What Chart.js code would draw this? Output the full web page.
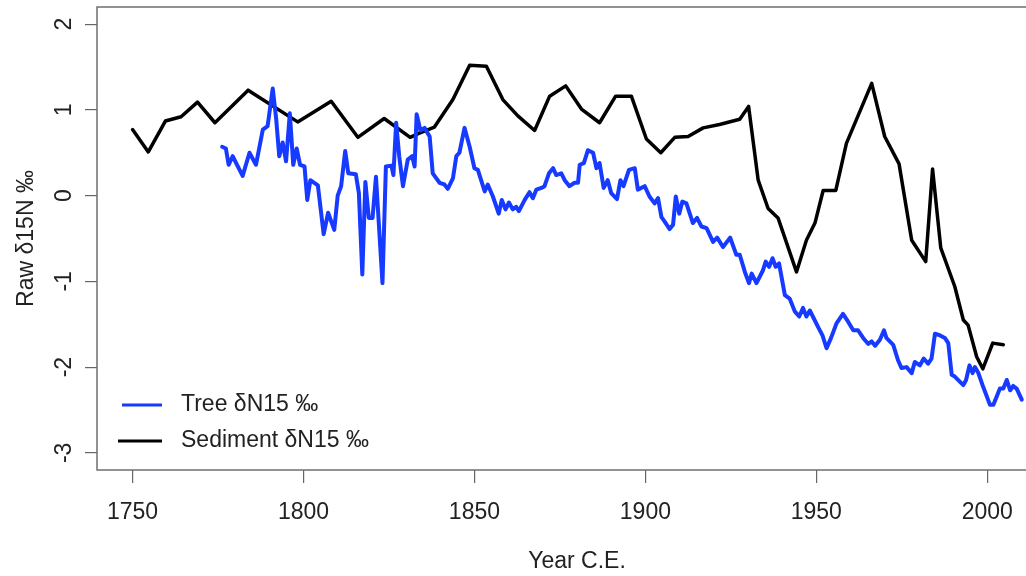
<!DOCTYPE html>
<html>
<head>
<meta charset="utf-8">
<script src="https://cdn.jsdelivr.net/npm/chart.js@4"></script>
<style>
  html, body { margin: 0; padding: 0; background: #fff; overflow: hidden; }
  #wrap { width: 1026px; height: 576px; overflow: hidden; }
</style>
</head>
<body>
<div id="wrap">
  <canvas id="chart" width="1070" height="576"></canvas>
</div>
<script>
// tree ring record (years, values in per mil)
const treeYears = [1776.2, 1777.3, 1778.1, 1779.3, 1780.3, 1782.2, 1784.2, 1786.1, 1788.1, 1789.5,
  1791, 1792, 1792.9, 1793.9, 1794.9, 1796, 1797, 1798, 1799, 1800.3,
  1801.1, 1802, 1804.2, 1805.9, 1807.2, 1809, 1810, 1811, 1812.2, 1813.1,
  1815.3, 1816.2, 1817.2, 1818.1, 1819.1, 1820.2, 1821.2, 1823.1, 1824.1, 1825.7,
  1826.3, 1827.1, 1828, 1829.1, 1830.5, 1831.8, 1832.5, 1833.1, 1834.2, 1835.4,
  1836.9, 1837.8, 1839.8, 1841.2, 1842.2, 1843.7, 1844.7, 1845.6, 1847.1, 1848.6,
  1850, 1851, 1853, 1853.9, 1855.4, 1857.1, 1858, 1859.1, 1860.1, 1861.2,
  1862.2, 1863, 1864.7, 1866.1, 1867.1, 1868.1, 1869.6, 1870.5, 1871.8, 1873,
  1873.9, 1875.4, 1876.4, 1877.8, 1879.3, 1880.3, 1880.8, 1882, 1883.2, 1884.7,
  1885.7, 1886.6, 1887.8, 1889, 1890, 1891.7, 1892.7, 1893.6, 1895.2, 1896.9,
  1897.8, 1899.8, 1901.2, 1902.7, 1903.7, 1904.7, 1905.6, 1907.1, 1908.1, 1908.9,
  1909.9, 1910.8, 1912, 1913.9, 1915.1, 1916.4, 1917.9, 1919.8, 1921, 1922.7,
  1924.8, 1926.6, 1927.6, 1929.1, 1930.3, 1931.1, 1932.5, 1934.4, 1935.2, 1936.2,
  1937.2, 1938.1, 1939.1, 1940.8, 1942.2, 1943.7, 1945, 1946.1, 1947.1, 1948.1,
  1950.5, 1951.8, 1953, 1954.4, 1955.9, 1957.8, 1959.3, 1960.8, 1962.2, 1963.7,
  1965.2, 1966.2, 1967.2, 1968.6, 1969.8, 1970.5, 1972.5, 1973.9, 1974.9, 1976.4,
  1977.9, 1978.8, 1980.3, 1981.4, 1982.7, 1983.7, 1984.7, 1986.2, 1987.6, 1988.6,
  1989.6, 1990.5, 1993, 1993.8, 1994.8, 1995.7, 1996.4, 1997.4, 1998.8, 2000.8,
  2001.8, 2003.7, 2004.7, 2005.7, 2006.7, 2007.6, 2008.6, 2010.1];
const treeValues = [0.57, 0.55, 0.36, 0.46, 0.38, 0.23, 0.5, 0.36, 0.77, 0.81,
  1.25, 0.9, 0.46, 0.62, 0.4, 0.96, 0.36, 0.55, 0.36, 0.34,
  -0.05, 0.18, 0.12, -0.45, -0.2, -0.4, 0, 0.11, 0.52, 0.26,
  0.25, 0.03, -0.92, 0.16, -0.26, -0.26, 0.22, -1.02, 0.34, 0.35,
  0.24, 0.85, 0.46, 0.11, 0.42, 0.46, 0.34, 0.95, 0.76, 0.79,
  0.69, 0.26, 0.15, 0.13, 0.08, 0.2, 0.46, 0.5, 0.79, 0.57,
  0.32, 0.3, 0.05, 0.13, -0.01, -0.21, -0.05, -0.16, -0.08, -0.16,
  -0.13, -0.18, -0.05, 0.04, -0.03, 0.07, 0.09, 0.11, 0.26, 0.32,
  0.24, 0.26, 0.18, 0.11, 0.15, 0.15, 0.36, 0.38, 0.53, 0.5,
  0.32, 0.38, 0.09, 0.18, 0.03, -0.04, 0.18, 0.11, 0.3, 0.32,
  0.07, 0.11, -0.01, -0.09, -0.03, -0.25, -0.3, -0.39, -0.34, -0.01,
  -0.21, -0.07, -0.09, -0.32, -0.26, -0.36, -0.38, -0.54, -0.49, -0.6,
  -0.49, -0.69, -0.69, -0.89, -1.02, -0.91, -1.02, -0.87, -0.77, -0.83,
  -0.73, -0.83, -0.79, -1.16, -1.2, -1.35, -1.41, -1.31, -1.41, -1.34,
  -1.53, -1.63, -1.78, -1.65, -1.49, -1.38, -1.47, -1.57, -1.57, -1.66,
  -1.73, -1.7, -1.75, -1.68, -1.57, -1.66, -1.74, -1.92, -2.01, -2,
  -2.07, -1.94, -1.98, -1.9, -1.96, -1.9, -1.61, -1.63, -1.66, -1.72,
  -2.09, -2.11, -2.21, -2.15, -1.98, -2.07, -2, -2.07, -2.23, -2.44,
  -2.44, -2.25, -2.25, -2.15, -2.27, -2.22, -2.25, -2.38];

// lake sediment record
const sedimentYears = [1750, 1754.6, 1759.6, 1764.2, 1769, 1774.1, 1783.8, 1798.3, 1808.1, 1815.9,
  1823.6, 1831.2, 1833.9, 1838.3, 1843.7, 1848.6, 1853.5, 1858.3, 1862.7, 1867.6,
  1872, 1876.7, 1881.3, 1886.6, 1891.3, 1895.9, 1900.3, 1904.5, 1908.6, 1912.5,
  1916.9, 1921.7, 1927.6, 1930.2, 1933, 1935.9, 1938.8, 1944.2, 1947.1, 1949.6,
  1952, 1955.7, 1958.8, 1966.2, 1970, 1974.2, 1977.9, 1982, 1984, 1986.4,
  1990.5, 1993, 1994.4, 1996.9, 1998.7, 2001.6, 2004.7];
const sedimentValues = [0.77, 0.51, 0.87, 0.92, 1.09, 0.85, 1.23, 0.86, 1.1, 0.68,
  0.9, 0.68, 0.73, 0.8, 1.12, 1.52, 1.51, 1.12, 0.93, 0.76,
  1.16, 1.28, 1.01, 0.85, 1.16, 1.16, 0.66, 0.5, 0.68, 0.69,
  0.79, 0.83, 0.89, 1.04, 0.18, -0.15, -0.26, -0.89, -0.52, -0.32,
  0.06, 0.06, 0.61, 1.31, 0.69, 0.37, -0.52, -0.77, 0.31, -0.61,
  -1.06, -1.45, -1.51, -1.88, -2.02, -1.72, -1.74];

const yTicks = [-3, -2, -1, 0, 1, 2];
const xTicks = [1750, 1800, 1850, 1900, 1950, 2000];

const treeColor = 'rgb(22,58,255)';
const sedColor = '#000';
const fontFamily = '"Liberation Sans", Arial, Helvetica, sans-serif';

const toPoints = (xs, ys) => xs.map((x, i) => ({x: x, y: ys[i]}));

// R-style plot box round the chart area
const boxPlugin = {
  id: 'box',
  beforeDatasetsDraw(chart) {
    const a = chart.chartArea, ctx = chart.ctx;
    ctx.save();
    ctx.strokeStyle = '#6f6f6f';
    ctx.lineWidth = 1.5;
    ctx.strokeRect(a.left, a.top, a.right - a.left, a.bottom - a.top);
    ctx.restore();
  }
};

// legend in the bottom-left corner, like legend("bottomleft") in R
const legendPlugin = {
  id: 'cornerLegend',
  afterDraw(chart) {
    const ctx = chart.ctx;
    const items = [
      {label: 'Tree δN15 ‰', color: treeColor, y: 405, x0: 122},
      {label: 'Sediment δN15 ‰', color: sedColor, y: 441, x0: 118}
    ];
    ctx.save();
    ctx.font = '23px ' + fontFamily;
    ctx.textBaseline = 'middle';
    ctx.textAlign = 'left';
    items.forEach(it => {
      ctx.strokeStyle = it.color;
      ctx.lineWidth = 3;
      ctx.beginPath();
      ctx.moveTo(it.x0, it.y);
      ctx.lineTo(162, it.y);
      ctx.stroke();
      ctx.fillStyle = '#222';
      ctx.fillText(it.label, 181, it.y);
    });
    ctx.restore();
  }
};

new Chart(document.getElementById('chart'), {
  type: 'line',
  data: {
    datasets: [
      {
        label: 'Tree δN15 ‰',
        data: toPoints(treeYears, treeValues),
        borderColor: treeColor,
        borderWidth: 4,
        pointRadius: 0,
        tension: 0,
        borderJoinStyle: 'round',
        borderCapStyle: 'round'
      },
      {
        label: 'Sediment δN15 ‰',
        data: toPoints(sedimentYears, sedimentValues),
        borderColor: sedColor,
        borderWidth: 3.5,
        pointRadius: 0,
        tension: 0,
        borderJoinStyle: 'round',
        borderCapStyle: 'round'
      }
    ]
  },
  options: {
    responsive: false,
    animation: false,
    layout: { padding: { top: 7, right: 13, left: 0, bottom: 0 } },
    plugins: {
      legend: { display: false },
      tooltip: { enabled: false }
    },
    scales: {
      x: {
        type: 'linear',
        position: 'bottom',
        min: 1739.6,
        max: 2020.4,
        afterFit: (s) => { s.height = 106; s.paddingLeft = 0; s.paddingRight = 0; },
        afterBuildTicks: (s) => { s.ticks = xTicks.map(v => ({value: v})); },
        border: { display: false },
        grid: { drawOnChartArea: false, drawTicks: true, tickLength: 13, color: '#666', lineWidth: 1.2 },
        ticks: {
          color: '#222',
          padding: 16,
          maxRotation: 0,
          font: { size: 23, family: fontFamily },
          callback: (v) => String(v)
        },
        title: {
          display: true,
          text: 'Year C.E.',
          color: '#222',
          font: { size: 23, family: fontFamily },
          padding: { top: 0, bottom: 1 }
        }
      },
      y: {
        type: 'linear',
        min: -3.2,
        max: 2.2,
        afterFit: (s) => { s.width = 97; s.paddingTop = 0; s.paddingBottom = 0; },
        afterBuildTicks: (s) => { s.ticks = yTicks.map(v => ({value: v})); },
        border: { display: false },
        grid: { drawOnChartArea: false, drawTicks: true, tickLength: 12, color: '#666', lineWidth: 1.2 },
        ticks: {
          color: '#222',
          padding: 10,
          minRotation: 90,
          maxRotation: 90,
          crossAlign: 'center',
          font: { size: 23, family: fontFamily },
          callback: (v) => String(v)
        },
        title: {
          display: true,
          text: 'Raw δ15N ‰',
          color: '#222',
          font: { size: 23, family: fontFamily },
          padding: { top: 13, bottom: 0 }
        }
      }
    }
  },
  plugins: [boxPlugin, legendPlugin]
});
</script>
</body>
</html>
